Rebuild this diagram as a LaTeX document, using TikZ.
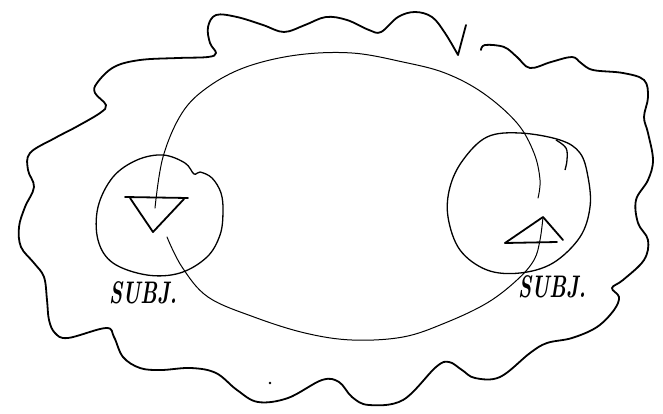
\documentclass[tikz,border=0pt]{standalone}
\begin{document}
\begin{tikzpicture}[x=1pt,y=-1pt,
  outerline/.style={line width=1.8pt,line join=round,line cap=round},
  ringline/.style={line width=1.3pt,line join=round},
  arcline/.style={line width=1pt,line cap=round},
  headline/.style={line width=1.8pt,line join=round,line cap=round},
  label/.style={font=\fontsize{24}{24}\selectfont\bfseries\itshape,inner sep=0pt,xscale=0.85,yscale=1.3}]
\useasboundingbox (0,0) rectangle (663,413);
% outer wavy boundary
\draw[outerline] plot[smooth,tension=0.6] coordinates{
(481,50) (485,45) (504,47) (517,57) (530,68) (551,62) (572,57) (581,63) (593,70) (623,73) (644,80) (648,97) (644,117) (648,133) (653,160) (648,180) (636,200) (638,223) (648,240) (644,260) (623,280) (612,288) (619,297) (614,310) (597,327) (572,338) (547,343) (530,353) (500,377) (475,378) (462,370) (449,362) (436,367) (403,400) (369,405) (352,397) (339,382) (322,380) (288,398) (258,402) (237,390) (216,373) (191,368) (161,370) (140,368) (123,357) (114,337) (106,328) (68,338) (55,333) (49,320) (47,300) (44,277) (34,263) (21,247) (19,227) (25,207) (34,187) (28,170) (30,153) (55,138) (76,127) (100,113) (106,105) (95,93) (97,83) (114,67) (140,60) (178,58) (208,57) (216,53) (210,43) (208,27) (216,15) (237,17) (263,25) (284,32) (305,25) (326,17) (347,20) (369,30) (381,32) (398,17) (415,12) (432,17) (445,33) (458,55)}
  -- (466,25);
% small dot
\fill (270,383) circle (1.3);
% left circle
\draw[ringline] plot[smooth cycle,tension=0.6] coordinates{
(163,155) (185,163) (194,174) (200,172) (212,178) (221,193) (223,212) (220,235) (207,257) (180,273) (147,275) (113,263) (98,240) (98,207) (113,177) (137,160)};
% right circle
\draw[ringline] plot[smooth cycle,tension=0.6] coordinates{
(520,133) (560,140) (580,153) (588,177) (590,207) (580,237) (553,263) (520,273) (487,270) (460,250) (448,217) (450,187) (463,160) (487,137)};
\draw[ringline] plot[smooth,tension=0.6] coordinates{(556,140) (566,148) (567,160) (565,170)};
% named ends
\coordinate (ltip) at (155,208);
\coordinate (lstart) at (167,237);
\coordinate (rtip) at (543,217);
\coordinate (rstart) at (538,198);
% top arc (right to left)
\draw[arcline] plot[smooth,tension=0.6] coordinates{
(rstart) (540,180) (534,153) (517,123) (483,93) (445,73) (403,62) (352,53) (297,55) (246,67) (208,87) (182,113) (163,157) (ltip)};
% bottom arc (left to right)
\draw[arcline] plot[smooth,tension=0.6] coordinates{
(lstart) (182,267) (208,297) (254,317) (305,333) (352,340) (403,337) (445,323) (487,303) (517,280) (534,260) (540,240) (rtip)};
% left triangle (pointing down)
\draw[headline] (125,197) -- (188,198);
\draw[headline] (130,198) -- (153,232) -- (184,199);
% right triangle (pointing up)
\draw[headline] (505,243) -- (557,242);
\draw[headline] (505,243) -- (rtip) -- (563,240);
% labels
\node[label] (l1) at (143,293) {SUBJ.};
\node[label] (l2) at (552,287) {SUBJ.};
\end{tikzpicture}
\end{document}
